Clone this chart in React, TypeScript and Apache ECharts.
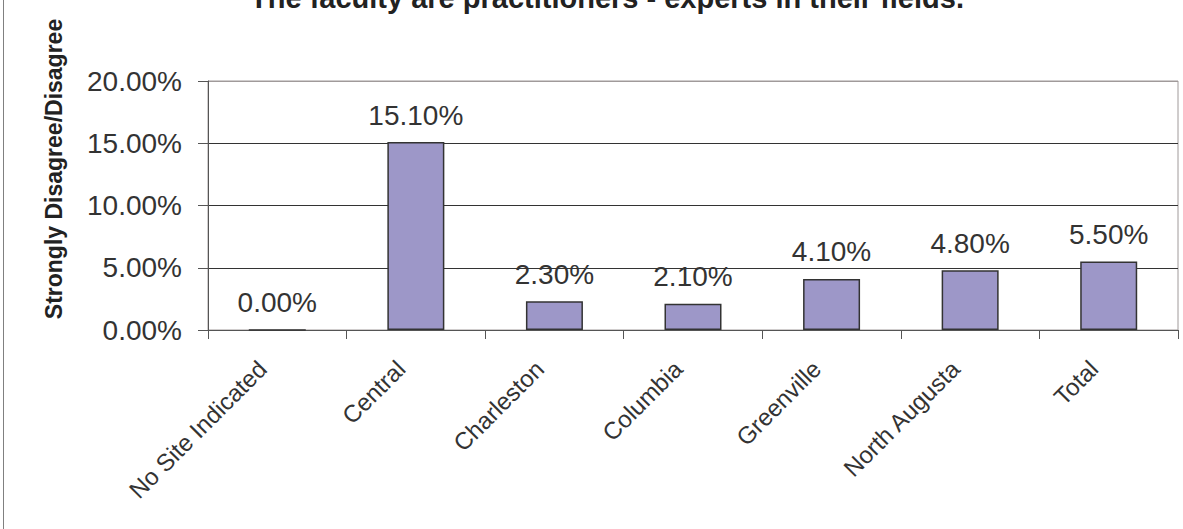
import React, { useEffect, useRef } from "react";
import * as echarts from "echarts";

const categories = ["No Site Indicated", "Central", "Charleston", "Columbia", "Greenville", "North Augusta", "Total"];
const values = [0, 15.1, 2.3, 2.1, 4.1, 4.8, 5.5];
const titleText = "The faculty are practitioners - experts in their fields.";
const yAxisTitle = "Strongly Disagree/Disagree";

const FONT = "'Liberation Sans', Arial, sans-serif";

export default function App() {
  const ref = useRef<HTMLDivElement>(null);
  useEffect(() => {
    if (!ref.current) return;
    const chart = echarts.init(ref.current, undefined, { renderer: "svg" });
    chart.setOption({
      animation: false,
      backgroundColor: "#ffffff",
      title: {
        text: titleText,
        left: 602,
        textAlign: "center",
        top: -22,
        textStyle: { fontFamily: FONT, fontSize: 29, fontWeight: "bold", color: "#222" },
      },
      graphic: [
        {
          type: "text",
          x: 54,
          y: 169,
          rotation: Math.PI / 2,
          style: {
            text: yAxisTitle,
            font: `bold 23px ${FONT}`,
            fill: "#222",
            align: "center",
            verticalAlign: "middle",
          },
        },
        {
          type: "line",
          shape: { x1: 3.5, y1: 0, x2: 3.5, y2: 529 },
          style: { stroke: "#808080", lineWidth: 1 },
        },
      ],
      grid: {
        left: 208,
        right: 5,
        top: 81,
        bottom: 199,
        show: true,
        borderColor: "#a09a9a",
        borderWidth: 1,
        backgroundColor: "transparent",
      },
      xAxis: {
        type: "category",
        data: categories,
        boundaryGap: true,
        axisLine: { lineStyle: { color: "#555", width: 1 } },
        axisTick: { show: true, length: 9, alignWithLabel: false, lineStyle: { color: "#555" } },
        axisLabel: {
          rotate: 45,
          interval: 0,
          margin: 20,
          verticalAlign: "middle",
          padding: [0, 21, 0, 0],
          fontFamily: FONT,
          fontSize: 24,
          color: "#333",
        },
        splitLine: { show: false },
      },
      yAxis: {
        type: "value",
        min: 0,
        max: 20,
        interval: 5,
        axisLine: { show: true, lineStyle: { color: "#555", width: 1 } },
        axisTick: { show: true, length: 10, inside: false, lineStyle: { color: "#555" } },
        axisLabel: {
          formatter: (v: number) => v.toFixed(2) + "%",
          margin: 26,
          fontFamily: FONT,
          fontSize: 28,
          color: "#333",
        },
        splitLine: {
          show: true,
          lineStyle: { color: ["#333", "#333", "#333", "#333", "#a09a9a"], width: 1 },
        },
      },
      series: [
        {
          type: "bar",
          data: values,
          barWidth: 57,
          itemStyle: { color: "#9d97c8", borderColor: "#333", borderWidth: 1.5 },
          label: {
            show: true,
            position: "top",
            distance: 13,
            formatter: (p: any) => Number(p.value).toFixed(2) + "%",
            fontFamily: FONT,
            fontSize: 28,
            color: "#333",
          },
        },
      ],
    });
    return () => chart.dispose();
  }, []);
  return (
    <div
      ref={ref}
      style={{ position: "fixed", left: 0, top: 0, width: 1183, height: 529 }}
    />
  );
}
